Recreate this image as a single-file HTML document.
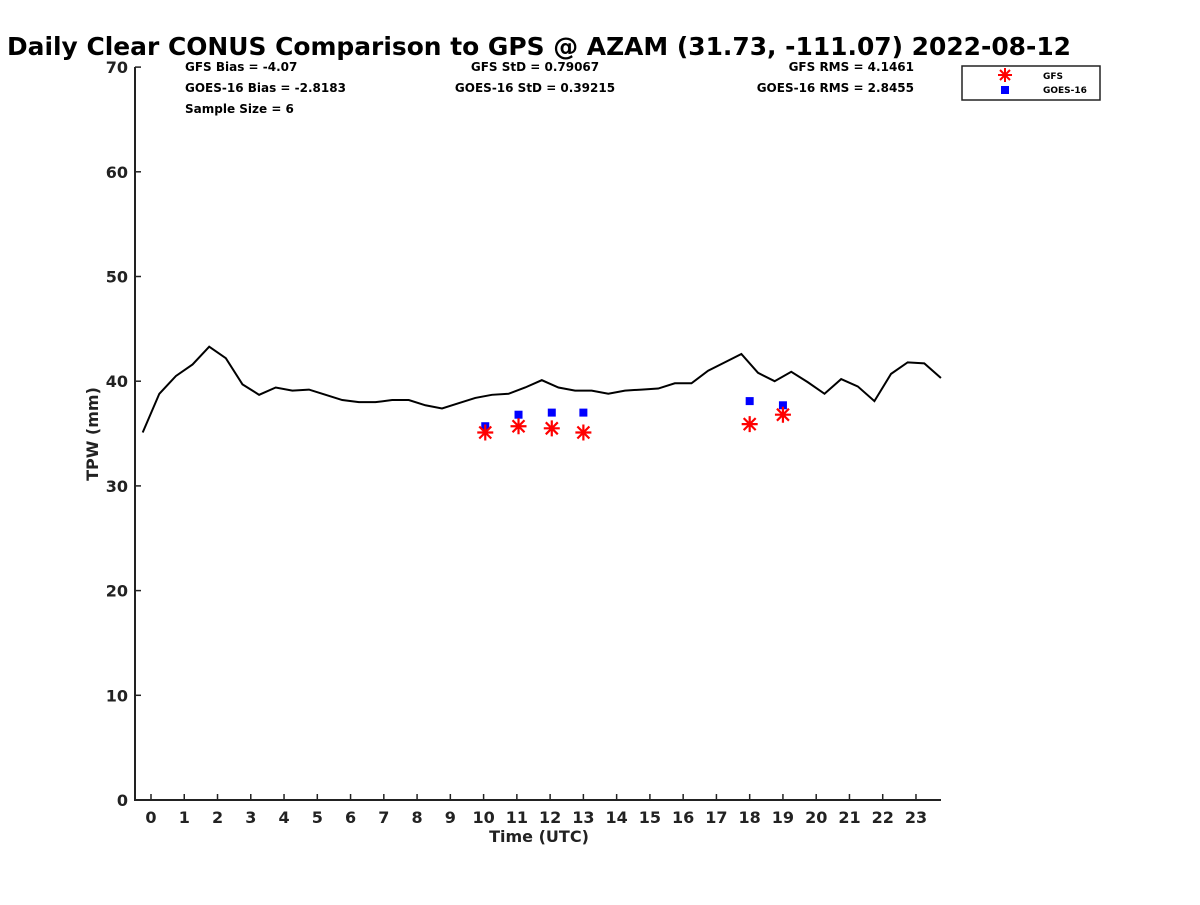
<!DOCTYPE html>
<html><head><meta charset="utf-8"><style>
body{margin:0;background:#fff;}
svg{font-family:"DejaVu Sans","Liberation Sans",sans-serif;}
</style></head><body>
<svg id="chart" width="1200" height="900" xmlns="http://www.w3.org/2000/svg">
<text x="7" y="55" textLength="1064" lengthAdjust="spacingAndGlyphs" font-size="24.5" font-weight="bold">Daily Clear CONUS Comparison to GPS @ AZAM (31.73, -111.07) 2022-08-12</text>
<g font-size="12" font-weight="bold">
<text x="185" y="71">GFS Bias = -4.07</text>
<text x="185" y="92">GOES-16 Bias = -2.8183</text>
<text x="185" y="113">Sample Size = 6</text>
<text x="535" y="71" text-anchor="middle">GFS StD = 0.79067</text>
<text x="535" y="92" text-anchor="middle">GOES-16 StD = 0.39215</text>
<text x="914" y="71" text-anchor="end">GFS RMS = 4.1461</text>
<text x="914" y="92" text-anchor="end">GOES-16 RMS = 2.8455</text>
</g>
<g>
<rect x="962" y="66" width="138" height="34" fill="#fff" stroke="#222" stroke-width="1.5"/>
<g stroke="red" stroke-width="2">
<line x1="998" y1="75" x2="1012" y2="75"/><line x1="1005" y1="68" x2="1005" y2="82"/>
<line x1="1000" y1="70" x2="1010" y2="80"/><line x1="1010" y1="70" x2="1000" y2="80"/></g>
<rect x="1001" y="86" width="8" height="8" fill="blue"/>
<text x="1043" y="79" font-size="9" font-weight="bold">GFS</text>
<text x="1043" y="93" font-size="9" font-weight="bold">GOES-16</text>
</g>
<g id="plot"></g>
</svg>
<script>
const gpsHours=[];for(let i=0;i<49;i++)gpsHours.push(-0.25+i*0.5);
const gpsValues=[35.1,38.8,40.5,41.6,43.3,42.2,39.7,38.7,39.4,39.1,39.2,38.7,38.2,38.0,38.0,38.2,38.2,37.7,37.4,37.9,38.4,38.7,38.8,39.4,40.1,39.4,39.1,39.1,38.8,39.1,39.2,39.3,39.8,39.8,41.0,41.8,42.6,40.8,40.0,40.9,39.9,38.8,40.2,39.5,38.1,40.7,41.8,41.7,40.3];
const gfsHours=[10.05,11.05,12.05,13.0,18.0,19.0];
const gfsValues=[35.1,35.7,35.5,35.1,35.9,36.8];
const goesHours=[10.05,11.05,12.05,13.0,18.0,19.0];
const goesValues=[35.7,36.8,37.0,37.0,38.1,37.7];
const xTicks=[0,1,2,3,4,5,6,7,8,9,10,11,12,13,14,15,16,17,18,19,20,21,22,23];
const yTicks=[0,10,20,30,40,50,60,70];
const X=h=>151+h*33.26, Y=v=>800-v*10.47;
const NS="http://www.w3.org/2000/svg", g=document.getElementById('plot');
function mk(t,a){const e=document.createElementNS(NS,t);for(const k in a)e.setAttribute(k,a[k]);g.appendChild(e);return e;}
let ax=mk('path',{d:'M135,67 L135,800 L941,800',fill:'none',stroke:'#222','stroke-width':2});


xTicks.forEach(t=>{mk('line',{x1:X(t),x2:X(t),y1:800,y2:794,stroke:'#222','stroke-width':1.5});
 const tx=mk('text',{x:X(t),y:823,'text-anchor':'middle','font-size':16,'font-weight':'bold',fill:'#222'});tx.textContent=t;
 
 });
yTicks.forEach(t=>{mk('line',{x1:135,x2:141,y1:Y(t),y2:Y(t),stroke:'#222','stroke-width':1.5});
 const tx=mk('text',{x:128,y:Y(t)+6,'text-anchor':'end','font-size':16,'font-weight':'bold',fill:'#222'});tx.textContent=t;
 
 });
let xt=mk('text',{x:539,y:842,'text-anchor':'middle','font-size':16,'font-weight':'bold',fill:'#222'});xt.textContent='Time (UTC)';


let yt=mk('text',{x:98,y:434,'text-anchor':'middle','font-size':16,'font-weight':'bold',fill:'#222',transform:'rotate(-90 98 434)'});yt.textContent='TPW (mm)';


let ln=mk('polyline',{points:gpsHours.map((h,i)=>X(h)+','+Y(gpsValues[i])).join(' '),fill:'none',stroke:'#000','stroke-width':2});


goesHours.forEach((h,i)=>{const r=mk('rect',{x:X(h)-4,y:Y(goesValues[i])-4,width:8,height:8,fill:'blue'});
 
 });
gfsHours.forEach((h,i)=>{const cx=X(h),cy=Y(gfsValues[i]);
 const p=mk('path',{d:`M${cx-8},${cy}H${cx+8}M${cx},${cy-8}V${cy+8}M${cx-6},${cy-6}L${cx+6},${cy+6}M${cx+6},${cy-6}L${cx-6},${cy+6}`,stroke:'red','stroke-width':2.2,fill:'none'});
 
 });
</script>
</body></html>
